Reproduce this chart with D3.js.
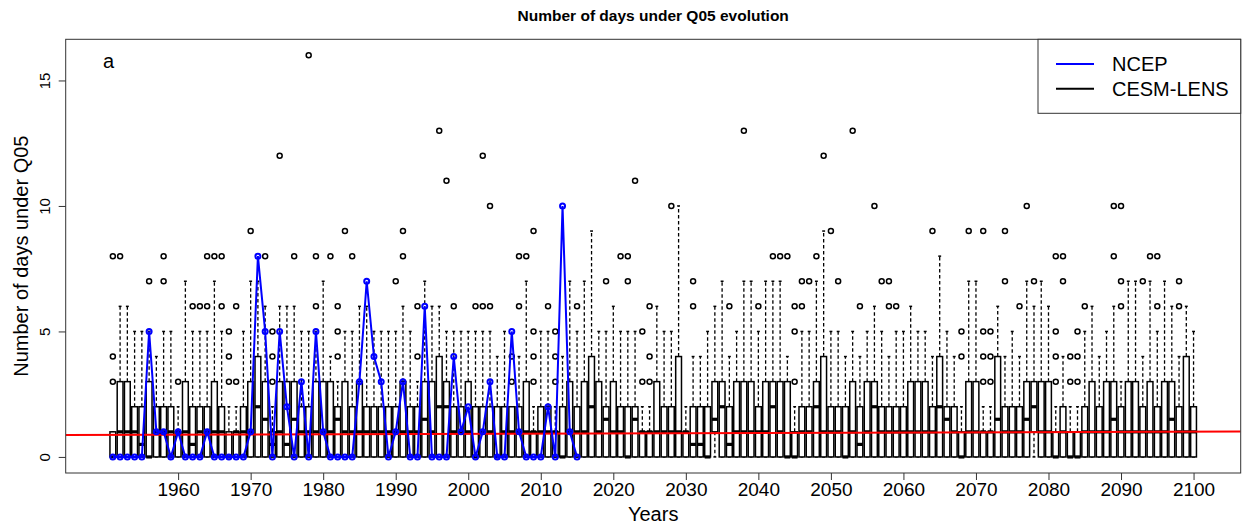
<!DOCTYPE html>
<html><head><meta charset="utf-8">
<script src="https://cdn.jsdelivr.net/npm/d3@7"></script>
<style>body{margin:0;background:#fff} svg{display:block}</style>
</head><body>
<svg id="chart" width="1242" height="532"></svg>
<script>
// ---------- DATA ----------
const years = d3.range(1951, 2101); // CESM-LENS boxes, one per year
const lowerWhisker = new Array(150).fill(0);
const q1Values = [
0,0,0,0,0,0,0,0,0,0, 0,0,0,0,0,0,0,0,0,0, 0,0,0,0,0,0,0,0,0,0, 0,0,0,0,0,0,0,0,0,0,
0,0,0,0,0,0,0,0,0,0, 0,0,0,0,0,0,0,0,0,0, 0,0,0,0,0,0,0,0,0,0, 0,0,0,0,0,0,0,0,0,0,
0,0,0,1,0,0,0,0,0,0, 0,0,0,0,0,0,0,0,0,0, 0,0,0,0,0,0,0,0,0,0, 0,0,0,0,0,0,0,0,0,0,
0,0,0,0,0,0,0,1,0,0, 0,0,0,0,0,0,0,0,0,0, 0,0,0,0,0,0,0,0,0,0];
const medianValues = [
0,1,1,1,0.5,0,1,1,1,1, 1,0.5,1,1,1,1,0,1,1,1, 2,1.5,0.5,1,0.5,1.5,1,1,1,1,
1,1.5,1,1,1,1,1,1,1,1, 1,1,1,1.5,1,2,2,1,1,1, 0,1,1,0,1,1,1,1,1,1,
1,1,0,1,1,1,2,1,1.5,1, 1,0,1.5,1,1,1,1,1,1,1, 0.5,0.5,0,1.5,2,0.5,1,1,1,1,
1,2,1,0,0,1,1,2,1,1, 1,0,1,0.5,1,2,1,1,1,1, 1,1,1,1,2,1.5,1,0,1,1,
1,1,1.5,1,1,1,1.5,2,1,1, 0,1,0,0,1,1,1,1,1.5,1, 1,1,1,1,1,1,1.5,1,1,1];
const q3Values = [
1,3,3,2,2,3,2,2,2,1, 3,2,2,2,3,2,1,1,2,3, 4,3,1,3,3,3,2,2,3,3,
3,2,3,2,3,2,2,2,2,2, 3,2,2,3,3,4,3,2,2,3, 2,2,2,2,2,2,2,3,1,2,
2,1,2,3,2,3,4,3,2,3, 2,2,2,1,1,3,2,2,4,1, 2,2,2,3,3,2,3,3,3,2,
3,3,3,3,1,2,2,3,4,2, 2,2,3,2,3,3,2,2,2,2, 3,3,3,2,4,2,2,1,3,3,
1,1,4,2,2,2,3,3,3,3, 1,2,1,1,2,3,2,3,3,2, 3,3,2,3,2,3,3,2,4,2];
const upperWhisker = [
1,6,6,5,5,5,4,5,5,2, 7,5,5,5,7,5,2,2,5,7, 7,6,2,6,6,6,5,5,5,7,
4,3,5,5,6,6,5,5,5,5, 6,5,3,7,6,6,5,5,5,5, 5,5,5,4,5,2,4,7,2,5,
5,2,4,7,5,7,9,5,5,6, 5,5,5,2,2,6,5,5,10,2, 4,4,5,6,7,4,5,7,7,5,
7,7,7,4,2,5,5,7,9,5, 5,4,5,4,5,6,5,4,5,5, 6,5,5,4,8,5,4,2,7,7,
2,2,6,4,5,4,7,6,7,6, 2,4,2,2,5,6,4,5,6,3, 7,7,4,7,5,7,6,4,6,5];
const outlierValues = [
[3,4,8],[8],[],[],[],[7],[],[7,8],[],[3],
[],[6],[6],[6,8],[8],[6,8],[3,4,5],[3,6],[],[9],
[],[8],[3,4,5],[12],[],[8],[],[16],[6,8],[],
[8],[4,5,6],[9],[8],[],[],[],[],[],[7],
[8,9],[],[4,6],[],[],[13],[11],[6],[],[],
[6],[6,12],[6,10],[],[],[3,4],[6,8],[8],[3,4,5,9],[],
[6],[3,4,5],[],[],[6],[],[],[],[7],[],
[8],[7,8],[11],[3,5],[3,4,6],[],[],[10],[],[],
[6,7],[],[],[],[],[6],[],[13],[],[6],
[],[8],[8],[8],[3,5,6],[6,7],[7],[8],[12],[9],
[7],[],[13],[6],[],[10],[7],[6,7],[6],[],
[],[],[],[9],[],[],[],[4,5],[9],[],
[3,4,5,9],[3,4,5],[],[7,9],[],[6],[10],[7],[],[],
[3,4,5,8],[7,8],[3,4],[3,4,5],[6],[],[],[],[8,10],[6,7,10],
[],[],[7],[8],[6,8],[],[],[6,7],[],[]];

const ncepYears = d3.range(1951, 2016);
const ncepValues = [0,0,0,0,0,5,1,1,0,1, 0,0,0,1,0,0,0,0,0,1,
  8,5,0,5,2,0,3,0,5,1, 0,0,0,0,3,7,4,3,0,1, 3,0,0,6,0,0,0,4,1,2,
  0,1,3,0,0,5,1,0,0,0, 2,0,10,1,0];

const trendYears = [1951, 2100];
const trendValues = [0.876, 1.005];

const xTicks = [1960,1970,1980,1990,2000,2010,2020,2030,2040,2050,2060,2070,2080,2090,2100];
const yTicks = [0,5,10,15];

// ---------- DRAW ----------
const FONT = '"Liberation Sans", Arial, Helvetica, sans-serif';
const svg = d3.select('#chart').style('font-family', FONT);
const L = 65.7, R = 1240.7, T = 39.3, B = 473;
const x = d3.scaleLinear().domain([1944.5, 2106.5]).range([L, R]);
const y = d3.scaleLinear().domain([-0.64, 16.64]).range([B, T]);
const step = x(1952) - x(1951);
const bw = step * 0.8;

svg.append('defs').append('clipPath').attr('id','clip')
  .append('rect').attr('x',L).attr('y',T).attr('width',R-L).attr('height',B-T);

const boxes = svg.append('g');
years.forEach((yr, i) => {
  const cx = x(yr);
  const g = boxes.append('g');
  if (upperWhisker[i] > q3Values[i]) {
    g.append('line').attr('x1',cx).attr('x2',cx).attr('y1',y(q3Values[i])).attr('y2',y(upperWhisker[i]))
      .attr('stroke','#000').attr('stroke-width',1.3).attr('stroke-dasharray','3.5,2.5');
  }
  g.append('line').attr('x1',cx-bw/4).attr('x2',cx+bw/4).attr('y1',y(upperWhisker[i])).attr('y2',y(upperWhisker[i]))
    .attr('stroke','#000').attr('stroke-width',1.5);
  if (q1Values[i] > lowerWhisker[i]) {
    g.append('line').attr('x1',cx).attr('x2',cx).attr('y1',y(q1Values[i])).attr('y2',y(lowerWhisker[i]))
      .attr('stroke','#000').attr('stroke-width',1.3).attr('stroke-dasharray','3.5,2.5');
  }
  g.append('line').attr('x1',cx-bw/4).attr('x2',cx+bw/4).attr('y1',y(lowerWhisker[i])).attr('y2',y(lowerWhisker[i]))
    .attr('stroke','#000').attr('stroke-width',1.5);
  g.append('rect').attr('x',cx-bw/2).attr('width',bw)
    .attr('y',y(q3Values[i])).attr('height',Math.max(0.5, y(q1Values[i]) - y(q3Values[i])))
    .attr('fill','#fff').attr('stroke','#000').attr('stroke-width',1.5);
  g.append('line').attr('x1',cx-bw/2).attr('x2',cx+bw/2).attr('y1',y(medianValues[i])).attr('y2',y(medianValues[i]))
    .attr('stroke','#000').attr('stroke-width',3.2);
  outlierValues[i].forEach(v => {
    g.append('circle').attr('cx',cx).attr('cy',y(v)).attr('r',2.5)
      .attr('fill','none').attr('stroke','#000').attr('stroke-width',1.5);
  });
});

// red trend line across whole plot
const slope = (trendValues[1]-trendValues[0])/(trendYears[1]-trendYears[0]);
const xd = x.domain();
svg.append('line').attr('clip-path','url(#clip)')
  .attr('x1', x(xd[0])).attr('x2', x(xd[1]))
  .attr('y1', y(trendValues[0] + slope*(xd[0]-trendYears[0])))
  .attr('y2', y(trendValues[0] + slope*(xd[1]-trendYears[0])))
  .attr('stroke','#ff0000').attr('stroke-width',2);

// NCEP line
const ncep = ncepYears.map((yr,i)=>[yr, ncepValues[i]]);
svg.append('path').datum(ncep)
  .attr('d', d3.line().x(d=>x(d[0])).y(d=>y(d[1])))
  .attr('fill','none').attr('stroke','#0000ff').attr('stroke-width',2);
svg.append('g').selectAll('circle').data(ncep).join('circle')
  .attr('cx',d=>x(d[0])).attr('cy',d=>y(d[1])).attr('r',2.5)
  .attr('fill','none').attr('stroke','#0000ff').attr('stroke-width',2);

// plot frame
svg.append('rect').attr('x',L).attr('y',T).attr('width',R-L).attr('height',B-T)
  .attr('fill','none').attr('stroke','#333').attr('stroke-width',1);

// x axis
const xa = svg.append('g').attr('transform',`translate(0,${B})`)
  .call(d3.axisBottom(x).tickValues(xTicks).tickFormat(d3.format('d')).tickSize(7).tickPadding(3));
xa.select('.domain').remove();
xa.selectAll('line').attr('stroke','#333');
xa.selectAll('text').attr('font-size',19).attr('font-family',FONT).attr('fill','#000');

// y axis
const ya = svg.append('g').attr('transform',`translate(${L},0)`)
  .call(d3.axisLeft(y).tickValues(yTicks).tickSize(7).tickFormat(d3.format('d')));
ya.select('.domain').remove();
ya.selectAll('line').attr('stroke','#333');
ya.selectAll('text').remove();
ya.selectAll('.tick').append('text')
  .attr('transform','translate(-16,0) rotate(-90)')
  .attr('text-anchor','middle').attr('fill','#000')
  .attr('font-size',15).attr('font-family',FONT)
  .text(d=>d);

// titles
svg.append('text').attr('x',(L+R)/2).attr('y',21).attr('text-anchor','middle')
  .attr('font-size',15.5).attr('font-weight','bold').text('Number of days under Q05 evolution');
svg.append('text').attr('x',(L+R)/2).attr('y',521).attr('text-anchor','middle')
  .attr('font-size',20).text('Years');
svg.append('text').attr('transform',`translate(28,${(T+B)/2}) rotate(-90)`).attr('text-anchor','middle')
  .attr('font-size',20).text('Number of days under Q05');
svg.append('text').attr('x',103).attr('y',68).attr('font-size',20).text('a');

// legend
const lg = svg.append('g');
lg.append('rect').attr('x',1038).attr('y',T).attr('width',R-1038).attr('height',74)
  .attr('fill','#fff').attr('stroke','#333').attr('stroke-width',1);
const legendItems = [{name:'NCEP', color:'#0000ff'}, {name:'CESM-LENS', color:'#000'}];
legendItems.forEach((it, i) => {
  const yy = 64 + i*24.7;
  lg.append('line').attr('x1',1056).attr('x2',1094).attr('y1',yy).attr('y2',yy)
    .attr('stroke',it.color).attr('stroke-width',2);
  lg.append('text').attr('x',1112).attr('y',yy+7).attr('font-size',20).text(it.name);
});
</script>
</body></html>
